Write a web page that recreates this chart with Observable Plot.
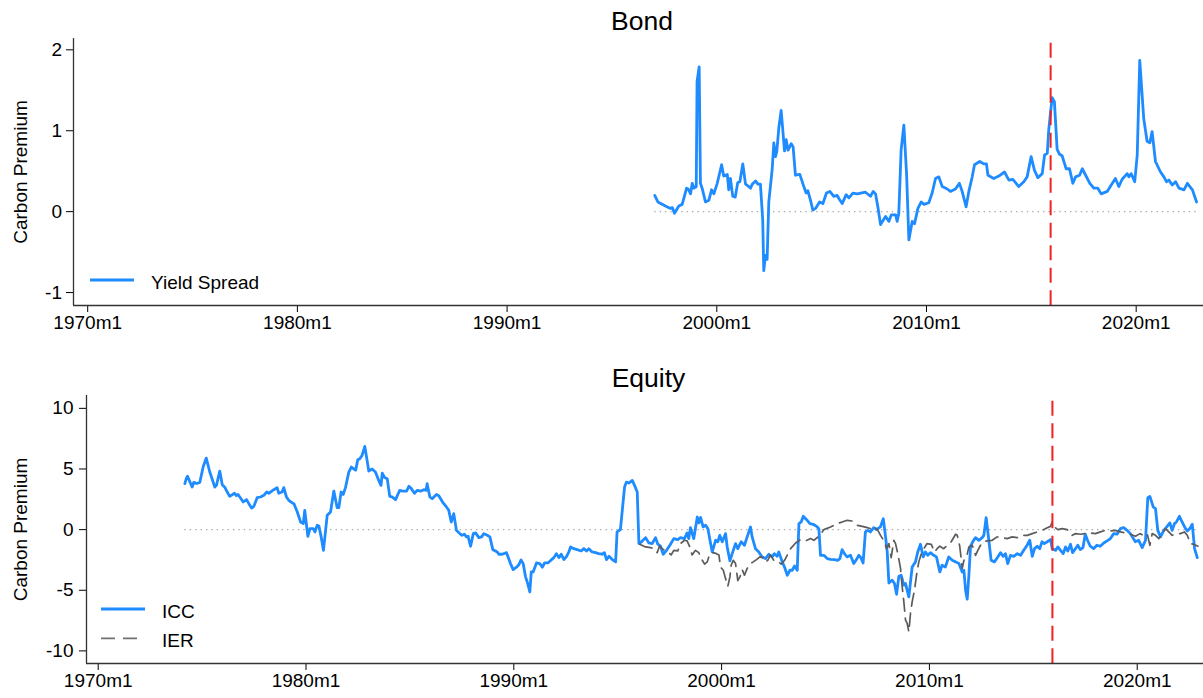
<!DOCTYPE html>
<html>
<head>
<meta charset="utf-8">
<script src="https://cdn.jsdelivr.net/npm/d3@7"></script>
<script src="https://cdn.jsdelivr.net/npm/@observablehq/plot@0.6"></script>
<style>
  body { margin: 0; background: #fff; }
  #chart { position: relative; width: 1203px; height: 698px; font-family: "Liberation Sans", Arial, Helvetica, sans-serif; }
  #chart svg { display: block; }
  #chart svg.legend { position: absolute; left: 0; top: 0; pointer-events: none; }
</style>
</head>
<body>
<div id="chart"></div>
<script>
// ---- Data (time in decimal years) ----
const bondT = [1997.04,1997.19,1997.55,1997.79,1997.88,1997.98,1998.19,1998.35,1998.56,1998.64,1998.75,1998.83,1998.91,1999.02,1999.06,1999.16,1999.22,1999.30,1999.46,1999.62,1999.75,1999.86,2000.02,2000.23,2000.33,2000.50,2000.57,2000.65,2000.76,2000.88,2001.00,2001.10,2001.24,2001.37,2001.53,2001.61,2001.69,2001.85,2001.96,2002.08,2002.19,2002.24,2002.32,2002.40,2002.48,2002.64,2002.72,2002.80,2002.86,2002.96,2003.07,2003.23,2003.31,2003.40,2003.55,2003.64,2003.75,2003.96,2004.15,2004.26,2004.34,2004.47,2004.58,2004.71,2004.90,2005.06,2005.23,2005.39,2005.58,2005.74,2005.85,2005.98,2006.17,2006.30,2006.49,2006.70,2007.09,2007.33,2007.46,2007.57,2007.68,2007.81,2008.05,2008.21,2008.32,2008.53,2008.60,2008.68,2008.79,2008.92,2009.05,2009.16,2009.32,2009.43,2009.59,2009.75,2009.88,2010.11,2010.27,2010.43,2010.59,2010.75,2010.99,2011.14,2011.38,2011.57,2011.70,2011.89,2012.02,2012.18,2012.29,2012.54,2012.73,2012.86,2012.93,2013.21,2013.45,2013.72,2013.93,2014.12,2014.40,2014.64,2014.80,2014.99,2015.15,2015.31,2015.52,2015.63,2015.76,2015.83,2015.99,2016.10,2016.23,2016.34,2016.47,2016.66,2016.82,2016.98,2017.11,2017.30,2017.43,2017.59,2017.79,2017.98,2018.17,2018.33,2018.62,2018.81,2019.01,2019.17,2019.33,2019.57,2019.65,2019.76,2019.93,2020.05,2020.17,2020.36,2020.52,2020.65,2020.76,2020.92,2021.16,2021.32,2021.45,2021.56,2021.72,2021.88,2022.04,2022.28,2022.44,2022.68,2022.88];
const yieldSpread = [0.20,0.12,0.07,0.04,0.05,-0.02,0.07,0.09,0.29,0.28,0.22,0.35,0.29,0.31,1.61,1.79,0.35,0.29,0.12,0.14,0.27,0.22,0.35,0.58,0.44,0.46,0.27,0.41,0.19,0.18,0.36,0.37,0.59,0.34,0.31,0.29,0.34,0.38,0.34,0.34,-0.10,-0.73,-0.54,-0.59,0.12,0.52,0.85,0.68,0.74,1.04,1.25,0.75,0.89,0.76,0.84,0.80,0.45,0.46,0.31,0.23,0.26,0.14,0.02,0.04,0.12,0.10,0.23,0.25,0.19,0.20,0.15,0.10,0.21,0.17,0.23,0.22,0.24,0.19,0.25,0.22,0.06,-0.16,-0.06,-0.12,-0.04,-0.04,-0.12,-0.02,0.76,1.07,0.47,-0.35,-0.12,-0.15,0.04,0.12,0.09,0.11,0.23,0.41,0.43,0.31,0.28,0.25,0.28,0.35,0.25,0.06,0.25,0.43,0.58,0.62,0.59,0.59,0.45,0.41,0.44,0.49,0.39,0.40,0.31,0.37,0.43,0.68,0.51,0.42,0.47,0.70,0.72,1.01,1.41,1.36,0.77,0.71,0.69,0.53,0.53,0.35,0.43,0.45,0.53,0.45,0.35,0.29,0.29,0.22,0.25,0.33,0.41,0.31,0.40,0.47,0.43,0.47,0.37,0.70,1.87,1.15,0.87,0.85,0.99,0.62,0.49,0.43,0.37,0.39,0.33,0.37,0.29,0.27,0.35,0.27,0.12];

const iccT = [1974.17,1974.24,1974.30,1974.52,1974.60,1974.73,1974.89,1975.05,1975.20,1975.37,1975.48,1975.61,1975.69,1975.85,1975.97,1976.09,1976.21,1976.33,1976.56,1976.65,1976.73,1976.98,1977.14,1977.25,1977.38,1977.49,1977.65,1977.81,1977.97,1978.10,1978.21,1978.45,1978.61,1978.69,1978.85,1978.93,1979.06,1979.17,1979.34,1979.42,1979.58,1979.74,1979.87,1979.94,1980.09,1980.19,1980.35,1980.43,1980.54,1980.62,1980.73,1980.84,1981.02,1981.18,1981.34,1981.50,1981.58,1981.69,1981.79,1981.90,1982.06,1982.18,1982.31,1982.39,1982.49,1982.59,1982.70,1982.83,1982.94,1983.02,1983.18,1983.34,1983.50,1983.61,1983.67,1983.78,1983.91,1984.03,1984.14,1984.31,1984.42,1984.51,1984.65,1984.84,1984.95,1985.06,1985.22,1985.35,1985.54,1985.67,1985.78,1985.83,1985.96,1986.07,1986.28,1986.39,1986.60,1986.76,1986.87,1986.99,1987.11,1987.24,1987.40,1987.51,1987.62,1987.72,1987.80,1987.92,1988.05,1988.16,1988.32,1988.45,1988.56,1988.72,1988.85,1988.99,1989.12,1989.20,1989.28,1989.44,1989.65,1989.84,1989.97,1990.13,1990.24,1990.35,1990.45,1990.56,1990.67,1990.77,1990.84,1990.93,1991.09,1991.25,1991.37,1991.48,1991.64,1991.80,1991.93,1992.05,1992.17,1992.28,1992.41,1992.54,1992.65,1992.73,1992.89,1993.05,1993.24,1993.37,1993.50,1993.61,1993.77,1993.93,1994.09,1994.25,1994.36,1994.46,1994.58,1994.74,1994.90,1994.97,1995.13,1995.33,1995.42,1995.53,1995.70,1995.81,1995.94,1996.02,1996.15,1996.34,1996.50,1996.66,1996.82,1996.93,1997.06,1997.19,1997.35,1997.51,1997.70,1997.89,1998.02,1998.21,1998.34,1998.42,1998.50,1998.66,1998.83,1998.91,1998.99,1999.11,1999.23,1999.34,1999.47,1999.55,1999.71,1999.82,1999.91,2000.03,2000.19,2000.27,2000.40,2000.51,2000.67,2000.78,2000.94,2001.10,2001.23,2001.39,2001.47,2001.63,2001.79,2001.95,2002.11,2002.27,2002.43,2002.54,2002.67,2002.75,2002.92,2003.03,2003.16,2003.29,2003.40,2003.51,2003.64,2003.72,2003.83,2003.93,2004.09,2004.25,2004.41,2004.57,2004.68,2004.76,2004.92,2005.08,2005.24,2005.43,2005.59,2005.69,2005.80,2005.91,2006.04,2006.20,2006.36,2006.49,2006.60,2006.68,2006.81,2006.92,2007.04,2007.16,2007.32,2007.45,2007.64,2007.78,2007.89,2007.97,2008.05,2008.21,2008.32,2008.42,2008.53,2008.64,2008.77,2008.85,2009.01,2009.17,2009.33,2009.44,2009.57,2009.70,2009.81,2009.92,2010.05,2010.21,2010.34,2010.50,2010.61,2010.77,2010.93,2011.10,2011.26,2011.42,2011.58,2011.66,2011.74,2011.82,2011.90,2011.98,2012.11,2012.22,2012.38,2012.54,2012.62,2012.73,2012.86,2012.97,2013.13,2013.29,2013.42,2013.55,2013.66,2013.77,2013.90,2014.06,2014.23,2014.39,2014.54,2014.70,2014.83,2014.95,2015.06,2015.19,2015.31,2015.42,2015.53,2015.67,2015.83,2015.91,2016.07,2016.18,2016.31,2016.44,2016.55,2016.66,2016.79,2016.89,2017.03,2017.14,2017.26,2017.39,2017.50,2017.61,2017.74,2017.90,2018.06,2018.22,2018.39,2018.55,2018.71,2018.87,2019.03,2019.19,2019.35,2019.51,2019.67,2019.91,2020.07,2020.24,2020.40,2020.51,2020.61,2020.77,2020.88,2020.99,2021.12,2021.28,2021.44,2021.57,2021.68,2021.79,2021.89,2022.03,2022.16,2022.28,2022.41,2022.53,2022.65,2022.76,2022.89];
const icc = [3.79,4.20,4.40,3.51,3.90,3.80,3.90,5.16,5.90,4.75,4.20,3.51,3.65,4.83,3.70,3.50,3.10,2.74,3.00,2.80,2.90,2.28,2.47,2.14,1.78,1.92,2.63,2.69,2.83,3.10,3.00,3.29,3.46,3.00,3.10,3.46,2.69,2.42,2.20,2.14,1.45,0.63,0.50,1.59,-0.55,0.08,0.08,-0.19,0.36,0.30,-0.60,-1.71,1.18,1.45,3.18,1.81,1.81,3.10,2.90,3.46,4.75,5.16,5.00,4.90,5.77,5.85,6.12,6.86,5.71,4.83,5.00,4.75,4.06,3.65,4.66,4.30,4.20,2.74,2.70,2.47,2.90,3.24,3.18,3.18,3.57,3.40,3.00,3.24,3.18,3.29,3.24,3.79,2.69,2.55,2.90,2.80,2.20,1.87,1.59,0.63,1.32,-0.06,-0.33,-0.47,-0.38,-0.60,-0.55,-1.37,-0.33,-0.27,-0.66,-0.60,-0.33,-0.47,-0.60,-1.65,-1.76,-1.84,-2.03,-2.03,-1.90,-2.80,-3.30,-3.10,-2.90,-2.50,-2.80,-3.85,-4.45,-5.14,-3.49,-3.49,-2.75,-2.80,-3.10,-2.75,-2.75,-2.50,-2.31,-1.98,-2.31,-2.03,-2.47,-2.20,-1.84,-1.43,-1.57,-1.65,-1.76,-1.57,-1.76,-1.57,-1.84,-1.90,-1.98,-2.03,-1.90,-2.47,-2.20,-2.47,-2.66,-0.19,0.00,3.51,3.92,3.84,4.06,3.65,3.10,-1.15,-1.00,-0.66,-1.10,-1.15,-0.66,-1.20,-1.37,-2.03,-1.71,-1.29,-0.74,-0.82,-0.66,-0.74,-0.27,-0.74,0.16,-0.74,1.04,0.55,1.00,0.22,0.36,0.08,-1.15,-1.84,-0.88,-1.00,-0.47,-1.00,-0.33,-1.43,-2.58,-1.98,-1.15,-1.57,-1.00,-1.29,-0.60,0.22,-0.60,-1.57,-1.84,-2.25,-2.39,-2.03,-2.25,-1.98,-2.20,-1.84,-2.66,-3.10,-3.76,-3.35,-3.35,-3.00,-3.35,0.49,0.63,1.10,0.82,0.49,0.44,0.27,0.08,-2.12,-2.12,-2.39,-2.45,-2.47,-2.53,-2.40,-1.65,-1.98,-2.25,-2.12,-2.80,-2.47,-2.12,-2.25,-2.75,-0.19,-0.06,-0.19,0.16,0.00,0.22,0.90,-0.60,-1.84,-4.40,-4.17,-4.45,-5.33,-3.84,-3.76,-4.58,-4.45,-5.55,-3.08,-2.66,-1.84,-1.21,-2.25,-1.84,-2.12,-1.90,-2.12,-2.25,-3.49,-2.94,-3.08,-2.25,-2.53,-2.66,-2.80,-3.49,-3.35,-5.00,-5.74,-3.76,-1.37,-0.93,-0.66,-0.88,-0.66,-0.47,0.99,-0.88,-2.53,-2.66,-2.25,-1.90,-2.20,-1.98,-2.80,-2.12,-2.20,-1.98,-2.12,-1.71,-1.29,-0.88,-2.20,-1.57,-1.37,-1.57,-1.00,-1.15,-1.00,-0.82,-1.57,-1.71,-1.43,-1.71,-1.98,-1.43,-1.76,-1.21,-1.90,-1.57,-1.29,-1.65,-1.48,-0.38,-0.88,-1.37,-1.57,-1.29,-1.37,-1.10,-0.93,-0.74,-0.33,-0.38,0.08,0.16,-0.06,-0.33,-1.00,-0.88,-1.48,-0.88,2.63,2.74,1.87,1.73,-0.06,-0.60,-0.06,0.27,0.55,-0.06,0.49,0.63,1.10,0.63,0.22,-0.11,0.08,0.44,-1.57,-2.31];

const ierT = [1996.06,1996.34,1996.58,1996.77,1996.90,1997.01,1997.14,1997.30,1997.46,1997.57,1997.70,1997.89,1998.02,1998.21,1998.34,1998.47,1998.58,1998.74,1998.90,1999.07,1999.18,1999.31,1999.43,1999.60,1999.75,1999.87,1999.95,2000.08,2000.19,2000.30,2000.40,2000.46,2000.56,2000.67,2000.78,2000.88,2000.99,2001.10,2001.23,2001.39,2001.52,2001.68,2001.84,2002.00,2002.11,2002.22,2002.35,2002.51,2002.70,2002.87,2003.03,2003.16,2003.32,2003.56,2003.80,2004.04,2004.28,2004.44,2004.73,2004.92,2005.24,2005.56,2005.80,2006.04,2006.28,2006.53,2006.77,2007.01,2007.17,2007.33,2007.52,2007.65,2007.81,2007.94,2008.05,2008.16,2008.29,2008.37,2008.48,2008.61,2008.69,2008.77,2008.85,2008.93,2009.01,2009.09,2009.17,2009.28,2009.38,2009.49,2009.61,2009.73,2009.89,2010.09,2010.25,2010.37,2010.50,2010.69,2010.86,2011.05,2011.26,2011.34,2011.46,2011.58,2011.66,2011.79,2011.90,2012.06,2012.22,2012.33,2012.46,2012.62,2012.78,2013.02,2013.26,2013.50,2013.74,2013.98,2014.23,2014.47,2014.71,2014.95,2015.19,2015.43,2015.67,2015.83,2015.91,2015.99,2016.18,2016.39,2016.63,2016.87,2017.03,2017.27,2017.51,2017.75,2017.99,2018.23,2018.47,2018.71,2018.95,2019.19,2019.43,2019.67,2019.92,2020.13,2020.29,2020.48,2020.61,2020.72,2020.88,2021.04,2021.20,2021.36,2021.52,2021.68,2021.89,2022.08,2022.27,2022.41,2022.56,2022.72,2022.92];
const ier = [-1.20,-1.43,-1.48,-1.57,-1.90,-1.37,-1.57,-1.76,-1.90,-2.09,-1.71,-1.76,-1.15,-0.88,-0.93,-1.43,-2.09,-1.71,-1.90,-2.53,-2.85,-2.66,-1.98,-1.90,-1.98,-2.09,-3.10,-3.35,-4.04,-4.67,-3.90,-2.94,-2.53,-2.80,-4.20,-3.90,-3.30,-3.76,-3.20,-2.80,-2.66,-2.47,-2.25,-2.31,-2.66,-2.53,-2.09,-2.53,-2.58,-2.85,-2.53,-2.09,-1.57,-1.10,-0.82,-0.93,-0.74,-0.88,-0.47,0.00,0.22,0.49,0.63,0.77,0.71,0.36,0.27,0.16,0.08,0.27,-0.06,-0.47,-0.93,-1.57,-1.15,-2.31,-0.88,-1.15,-1.98,-3.20,-4.72,-5.96,-7.47,-7.74,-8.43,-6.90,-5.96,-5.00,-3.76,-2.66,-1.98,-1.57,-1.15,-1.21,-1.84,-1.57,-1.37,-1.57,-1.29,-1.00,-0.38,-0.47,-1.37,-3.20,-2.53,-2.25,-1.43,-1.29,-2.12,-1.71,-1.29,-1.00,-0.93,-0.88,-0.60,-0.66,-0.74,-0.60,-0.66,-0.47,-0.47,-0.33,-0.19,-0.06,0.16,0.27,0.63,0.27,0.00,0.08,0.00,-0.47,-0.33,-0.38,-0.33,-0.27,-0.33,-0.19,-0.06,-0.11,-0.06,-0.19,-0.27,-0.38,-0.55,-0.33,-0.47,-0.33,-1.29,-0.33,-0.47,-0.74,-0.33,0.08,-0.19,-0.47,-0.33,-0.33,-0.19,-0.47,-1.15,-1.21,-1.37];

// Axis ticks and event marker
const tickYears = [1970, 1980, 1990, 2000, 2010, 2020];
const bondTicks = [-1, 0, 1, 2];
const equityTicks = [-10, -5, 0, 5, 10];
const parisDate = 2015.92;

const bondSeries = ["Yield Spread"];
const equitySeries = ["ICC", "IER"];

// ---- Styling ----
const BLUE = "#1e8bff";
const GREY = "#5c5c5c";
const RED = "#ee2222";
const FONT = "'Liberation Sans', Arial, Helvetica, sans-serif";
const zip = (t, v) => t.map((d, i) => ({t: d, v: v[i]}));

const bond = zip(bondT, yieldSpread);
const iccData = zip(iccT, icc);
const ierData = zip(ierT, ier);

function panel({title, data, extra = [], xDomain, yDomain, yTicks, marginLeft, marginTop, marginBottom, height, markerTop, labelDx, tickPad}) {
  const first = d3.min(data, d => d.t), last = d3.max(data, d => d.t);
  return Plot.plot({
    width: 1203,
    height,
    marginLeft,
    marginRight: 0,
    marginTop,
    marginBottom,
    style: {fontFamily: FONT, fontSize: "19px", color: "#000", background: "#fff"},
    x: {domain: xDomain, ticks: tickYears, tickFormat: d => `${d}m1`, tickSize: 7, tickPadding: 3, label: null},
    y: {domain: yDomain, ticks: yTicks, tickFormat: d => String(d), tickSize: 7, tickPadding: tickPad, label: null},
    marks: [
      // reference line at zero over the sample period
      Plot.ruleY([{y: 0, x1: first, x2: last}], {y: "y", x1: "x1", x2: "x2", stroke: "#a8a8a8", strokeWidth: 1.4, strokeDasharray: "1.4,4"}),
      Plot.line(data, {x: "t", y: "v", stroke: BLUE, strokeWidth: 2.8, strokeLinejoin: "round"}),
      ...extra,
      Plot.ruleX([{x: parisDate, y1: markerTop, y2: yDomain[0]}], {x: "x", y1: "y1", y2: "y2", stroke: RED, strokeWidth: 2, strokeDasharray: "15,7.5"}),
      // axis lines
      Plot.ruleX([xDomain[0]], {stroke: "#333", strokeWidth: 1.3}),
      Plot.ruleY([yDomain[0]], {stroke: "#333", strokeWidth: 1.3}),
      Plot.text([title], {text: d => d, frameAnchor: "top", lineAnchor: "bottom", dy: -9, dx: 3.5, fontSize: 26.5}),
      Plot.text(["Carbon Premium"], {text: d => d, frameAnchor: "left", textAnchor: "middle", lineAnchor: "middle", rotate: -90, dx: labelDx, fontSize: 19})
    ]
  });
}

const bondChart = panel({
  title: "Bond", data: bond,
  xDomain: [1969.323, 2023.21], yDomain: [-1.16, 2.14], yTicks: bondTicks,
  marginLeft: 73, marginTop: 38, marginBottom: 44, height: 349, markerTop: 2.08, labelDx: -53, tickPad: 4.5
});

const equityChart = panel({
  title: "Equity", data: iccData,
  extra: [Plot.line(ierData, {x: "t", y: "v", stroke: GREY, strokeWidth: 1.7, strokeDasharray: "13,7"})],
  xDomain: [1969.437, 2023.19], yDomain: [-11.04, 11.06], yTicks: equityTicks,
  marginLeft: 86, marginTop: 46, marginBottom: 35, height: 349, markerTop: 10.59, labelDx: -66, tickPad: 6
});

const chart = document.getElementById("chart");
chart.append(bondChart, equityChart);

// ---- Legends drawn over each panel ----
const legend = d3.select(chart).append("svg")
  .attr("class", "legend").attr("width", 1203).attr("height", 698)
  .style("font-family", FONT).style("font-size", "19px");

const legendItems = [
  {label: bondSeries[0], x: 90, len: 44, y: 280, stroke: BLUE, width: 2.8, dash: null},
  {label: equitySeries[0], x: 101, len: 44, y: 609, stroke: BLUE, width: 2.8, dash: null},
  {label: equitySeries[1], x: 101, len: 38, y: 638.3, stroke: "#707070", width: 1.7, dash: "14,8"}
];
for (const it of legendItems) {
  legend.append("line")
    .attr("x1", it.x).attr("x2", it.x + it.len).attr("y1", it.y).attr("y2", it.y)
    .attr("stroke", it.stroke).attr("stroke-width", it.width)
    .attr("stroke-dasharray", it.dash);
  legend.append("text")
    .attr("x", it.x + 61).attr("y", it.y + 8.5)
    .attr("fill", "#000").text(it.label);
}
</script>
</body>
</html>
